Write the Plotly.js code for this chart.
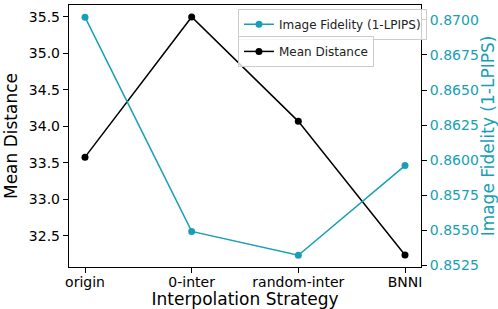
<!DOCTYPE html>
<html><head><meta charset="utf-8">
<script src="https://cdn.plot.ly/plotly-3.0.1.min.js"></script>
<style>html,body{margin:0;padding:0;background:#fff}#c{width:498px;height:309px}</style>
</head><body><div id="c"></div>
<script>
const categories = ["origin", "0-inter", "random-inter", "BNNI"];
const meanDistance = [33.58, 35.50, 34.07, 32.24];
const imageFidelity = [0.8702, 0.8549, 0.8532, 0.8596];
const leftTicks = [32.5, 33.0, 33.5, 34.0, 34.5, 35.0, 35.5];
const rightTicks = [0.8525, 0.8550, 0.8575, 0.8600, 0.8625, 0.8650, 0.8675, 0.8700];

const cyan = "#17a0b5";
const font = "DejaVu Sans, sans-serif";

const traces = [
  {x: categories, y: imageFidelity, yaxis: "y2", name: "Image Fidelity (1-LPIPS)",
   mode: "lines+markers", line: {color: cyan, width: 1.5}, marker: {color: cyan, size: 7},
   legend: "legend"},
  {x: categories, y: meanDistance, yaxis: "y", name: "Mean Distance",
   mode: "lines+markers", line: {color: "#000", width: 1.5}, marker: {color: "#000", size: 7},
   legend: "legend2"}
];

const legendStyle = {font: {family: font, size: 12, color: "#222"}, bgcolor: "rgba(255,255,255,0.8)",
  bordercolor: "#ccc", borderwidth: 1, xanchor: "left", yanchor: "top", itemwidth: 30,
  tracegroupgap: 0};

const layout = {
  width: 498, height: 309,
  margin: {l: 69, r: 77, t: 5, b: 42},
  paper_bgcolor: "#fff", plot_bgcolor: "#fff",
  font: {family: font, color: "#000"},
  showlegend: true,
  legend: Object.assign({}, legendStyle, {x: 0.48, y: 0.986}),
  legend2: Object.assign({}, legendStyle, {x: 0.48, y: 0.882}),
  xaxis: {
    type: "category", range: [-0.15, 3.15],
    showline: true, linecolor: "#000", linewidth: 1.2, mirror: true,
    ticks: "outside", ticklen: 5, tickcolor: "#000", showgrid: false, zeroline: false,
    tickfont: {size: 14, family: font}, ticklabelstandoff: -3,
    title: {text: "Interpolation Strategy", font: {size: 17, family: font}, standoff: 8}
  },
  yaxis: {
    range: [32.075, 35.664], tickvals: leftTicks, ticktext: leftTicks.map(v => v.toFixed(1)),
    showline: true, linecolor: "#000", linewidth: 1.2, mirror: true,
    ticks: "outside", ticklen: 5, tickcolor: "#000", showgrid: false, zeroline: false,
    tickfont: {size: 14, family: font},
    title: {text: "Mean Distance", font: {size: 17, family: font}, standoff: 6}
  },
  yaxis2: {
    overlaying: "y", side: "right", range: [0.85236, 0.87107],
    tickvals: rightTicks, ticktext: rightTicks.map(v => v.toFixed(4)),
    ticks: "outside", ticklen: 5, tickcolor: "#000", showgrid: false, zeroline: false,
    showline: false,
    tickfont: {size: 14, family: font, color: cyan},
    title: {text: "Image Fidelity (1-LPIPS)", font: {size: 17, family: font, color: cyan}, standoff: 6}
  }
};

Plotly.newPlot("c", traces, layout, {staticPlot: true, displayModeBar: false});
</script>
</body></html>
